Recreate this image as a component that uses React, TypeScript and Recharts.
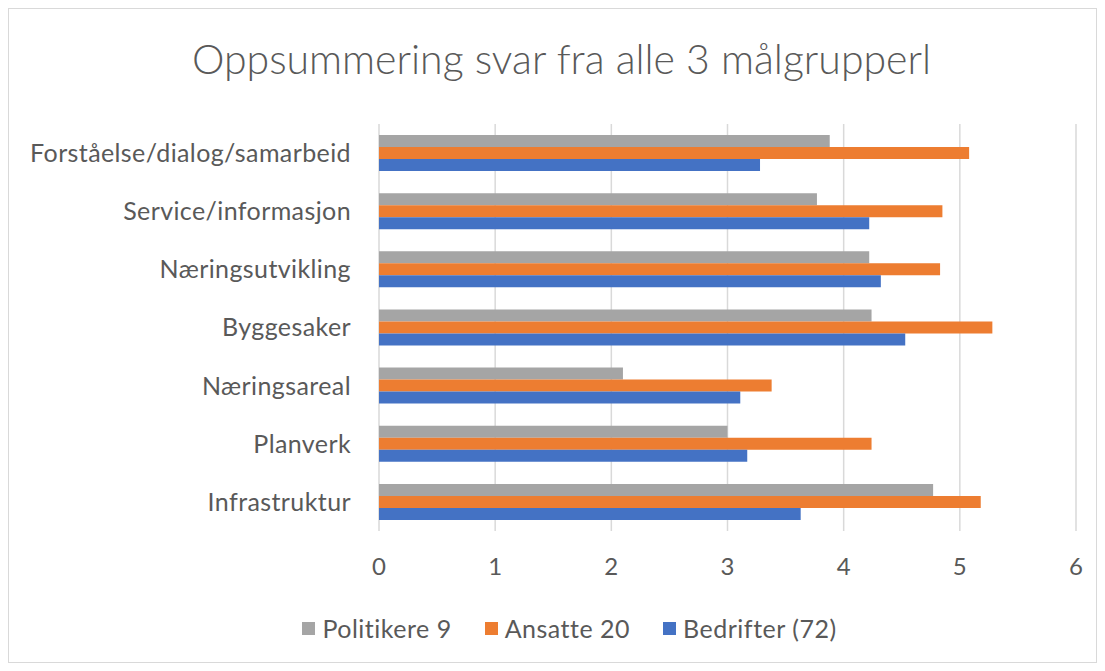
import React from "react";
import { BarChart, Bar, XAxis, YAxis, CartesianGrid, Legend } from "recharts";

const categories = [
  "Forståelse/dialog/samarbeid",
  "Service/informasjon",
  "Næringsutvikling",
  "Byggesaker",
  "Næringsareal",
  "Planverk",
  "Infrastruktur",
];
const politikere = [3.88, 3.77, 4.22, 4.24, 2.1, 3.0, 4.77];
const ansatte = [5.08, 4.85, 4.83, 5.28, 3.38, 4.24, 5.18];
const bedrifter = [3.28, 4.22, 4.32, 4.53, 3.11, 3.17, 3.63];
const xTicks = [0, 1, 2, 3, 4, 5, 6];
const seriesNames = ["Politikere 9", "Ansatte 20", "Bedrifter (72)"];
const seriesColors = ["#A5A5A5", "#ED7D31", "#4472C4"];

const data = categories.map((c, i) => ({
  name: c,
  p: politikere[i],
  a: ansatte[i],
  b: bedrifter[i],
}));

const FONT = "Lato, 'Open Sans', sans-serif";
const TXT = "#595959";

const LegendContent = () => (
  <div
    style={{
      display: "flex",
      justifyContent: "center",
      gap: 33,
      fontFamily: FONT,
      fontSize: 25,
      color: TXT,
      letterSpacing: 0.5,
      paddingLeft: 54,
    }}
  >
    {seriesNames.map((n, i) => (
      <div key={n} style={{ display: "flex", alignItems: "center" }}>
        <span
          style={{
            display: "inline-block",
            width: 13,
            height: 13,
            background: seriesColors[i],
            marginRight: 7,
          }}
        />
        <span>{n}</span>
      </div>
    ))}
  </div>
);

export default function App() {
  return (
    <div
      style={{
        position: "relative",
        width: 1089,
        height: 655,
        border: "1px solid #d9d9d9",
        boxSizing: "border-box",
        background: "#fff",
        fontFamily: FONT,
      }}
    >
      <div
        style={{
          position: "absolute",
          top: 25,
          left: 8,
          width: 1089,
          textAlign: "center",
          fontSize: 41,
          fontWeight: 300,
          color: TXT,
          fontFamily: FONT,
        }}
      >
        Oppsummering svar fra alle 3 målgrupperl
      </div>
      <BarChart
        width={1087}
        height={653}
        data={data}
        layout="vertical"
        margin={{ top: 115, right: 20, bottom: 61, left: 0 }}
        barGap={0}
        barCategoryGap="19%"
      >
        <CartesianGrid horizontal={false} stroke="#d9d9d9" strokeWidth={1.5} />
        <XAxis
          type="number"
          domain={[0, 6]}
          ticks={xTicks}
          axisLine={false}
          tickLine={false}
          height={40}
          tickMargin={21}
          tick={{ fill: TXT, fontSize: 24, fontFamily: FONT }}
        />
        <YAxis
          type="category"
          dataKey="name"
          width={370}
          axisLine={false}
          tickLine={false}
          tickMargin={22}
          tick={{ fill: TXT, fontSize: 25, fontFamily: FONT, letterSpacing: 0.4 }}
        />
        <Legend
          verticalAlign="bottom"
          content={<LegendContent />}
          wrapperStyle={{ bottom: 19 }}
        />
        <Bar dataKey="p" name={seriesNames[0]} fill={seriesColors[0]} isAnimationActive={false} />
        <Bar dataKey="a" name={seriesNames[1]} fill={seriesColors[1]} isAnimationActive={false} />
        <Bar dataKey="b" name={seriesNames[2]} fill={seriesColors[2]} isAnimationActive={false} />
      </BarChart>
    </div>
  );
}
